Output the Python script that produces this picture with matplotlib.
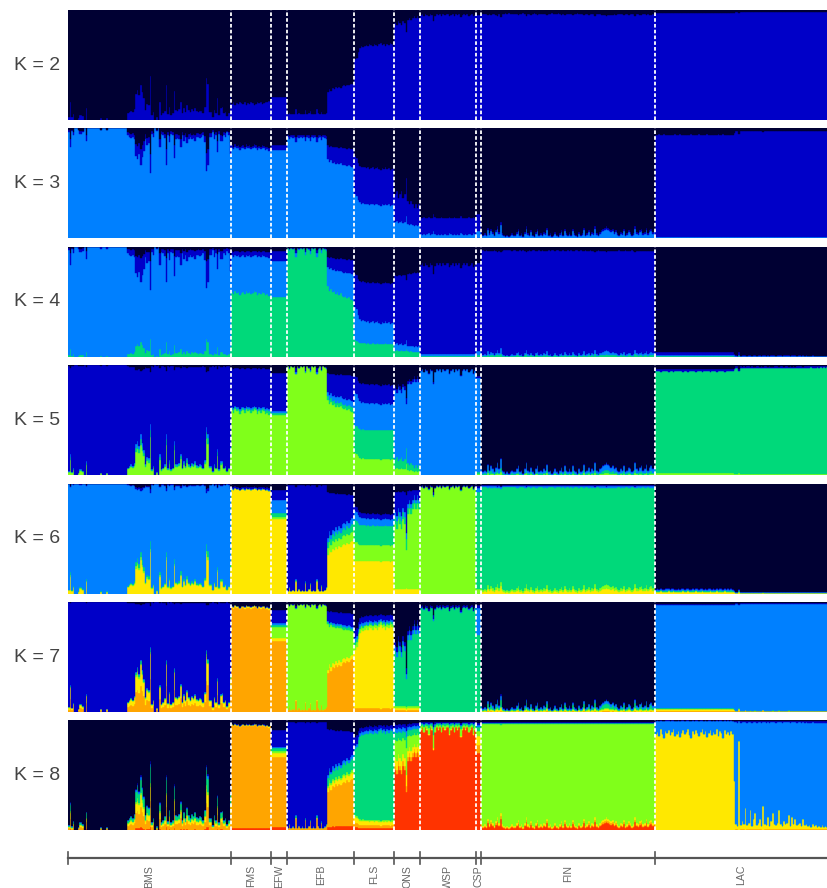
import numpy as np
import matplotlib
matplotlib.use('Agg')
from matplotlib import pyplot as plt

pops = ['BMS', 'FMS', 'EFW', 'EFB', 'FLS', 'ONS', 'WSP', 'CSP', 'FIN', 'LAC']
palette = ['#000033', '#0000C8', '#0080FF', '#00D97A', '#80FF1A', '#FFE800', '#FFA500', '#FF3300']
k_values = [2, 3, 4, 5, 6, 7, 8]

# admixture level of every individual (0 = like the population core, 100 = like the admix profile)
admix_level = {
    'BMS': [5, 27, 4, 9, 0, 0, 3, 8, 8, 6, 0, 18, 0, 0, 0, 0, 0, 0, 0, 0,
            3, 0, 0, 0, 3, 0, 0, 0, 0, 0, 0, 0, 0, 0, 0, 0, 0, 10, 12, 14,
            12, 16, 40, 45, 38, 53, 42, 33, 15, 24, 22, 66, 8, 12, 0, 4, 0, 27, 8, 10,
            14, 53, 9, 20, 8, 10, 44, 15, 14, 16, 28, 10, 18, 12, 22, 15, 12, 16, 14, 18,
            13, 12, 14, 13, 10, 20, 63, 54, 12, 12, 5, 15, 10, 34, 8, 18, 19, 10, 12, 6,
            10, 37],
    'FMS': [30, 50, 20, 40, 30, 60, 40, 30, 50, 20, 40, 30, 50, 40, 20, 30, 60, 40, 50, 30,
            40, 60, 50, 70, 50],
    'EFW': [30, 50, 20, 60, 40, 30, 50, 70, 40, 60],
    'EFB': [0, 5, 0, 2, 0, 15, 0, 3, 0, 2, 0, 12, 0, 3, 10, 0, 2, 0, 15, 3,
            0, 8, 0, 2, 5,
            62, 70, 66, 72, 70, 75, 72, 76, 74, 78, 80, 78, 82, 80, 83, 85, 87],
    'FLS': [100, 90, 60, 40, 30, 35, 30, 25, 30, 20, 25, 30, 20, 25, 30, 20, 15, 25, 20, 30,
            20, 25, 15, 20, 30],
    'ONS': [50, 60, 40, 50, 60, 40, 50, 100, 30, 20, 30, 20, 10, 20, 10, 20],
    'WSP': [20, 10, 30, 10, 20, 40, 10, 20, 100, 30, 10, 20, 10, 30, 10, 20, 10, 10, 40, 20,
            10, 30, 10, 20, 10, 50, 20, 10, 20, 10, 30, 20, 10, 40, 20],
    'CSP': [20, 50, 80],
    'FIN': [30, 10, 20, 10, 60, 20, 50, 30, 10, 40, 70, 30, 100, 20, 10, 0, 10, 0, 10, 20,
            10, 10, 30, 50, 10, 20, 0, 30, 70, 20, 10, 40, 10, 0, 30, 50, 10, 20, 10, 30,
            20, 60, 10, 20, 0, 10, 30, 10, 0, 20, 40, 10, 50, 20, 10, 30, 10, 50, 20, 10,
            0, 30, 10, 20, 60, 10, 20, 40, 10, 30, 20, 70, 20, 10, 30, 40, 50, 60, 70, 60,
            50, 40, 50, 30, 40, 20, 10, 30, 20, 50, 10, 20, 40, 30, 10, 20, 70, 30, 20, 40,
            50, 20, 30, 60, 20, 40, 50, 30, 40],
    'LAC': [90, 92, 88, 95, 90, 86, 93, 91, 94, 89, 92, 95, 88, 90, 93, 87, 91, 94, 90, 92,
            95, 89, 86, 93, 90, 94, 91, 88, 92, 95, 90, 93, 87, 91, 94, 89, 92, 90, 95, 88,
            93, 91, 86, 94, 90, 92, 89, 93, 90,
            46, 5, 3, 84, 4, 8, 5, 20, 4, 6, 18, 3, 10, 15, 4, 6, 10, 3, 22, 5,
            4, 12, 3, 8, 15, 5, 4, 6, 18, 5, 3, 8, 5, 6, 14, 3, 12, 5, 10, 4,
            5, 6, 3, 10, 4, 5, 3, 4, 2, 5, 3, 4, 2, 3, 2, 4, 2, 3, 2],
}

# cluster proportions (navy, blue, light blue, green, yellow-green, yellow, orange, red)
core = {
    2: {'BMS': [1, 0], 'FMS': [0.88, 0.12], 'EFW': [0.79, 0.21], 'EFB': [0.95, 0.05],
        'FLS': [0.27, 0.73], 'ONS': [0.04, 0.96], 'WSP': [0.03, 0.97], 'CSP': [0.05, 0.95],
        'FIN': [0.03, 0.97], 'LAC': [0.02, 0.98]},
    3: {'BMS': [0, 0, 1], 'FMS': [0.13, 0.02, 0.85], 'EFW': [0.15, 0.05, 0.8],
        'EFB': [0.06, 0.02, 0.92], 'FLS': [0.4, 0.32, 0.28], 'ONS': [0.75, 0.15, 0.1],
        'WSP': [0.82, 0.15, 0.03], 'CSP': [0.78, 0.15, 0.07], 'FIN': [0.98, 0.01, 0.01],
        'LAC': [0.02, 0.97, 0.01]},
    4: {'BMS': [0, 0, 1, 0], 'FMS': [0.03, 0.03, 0.32, 0.62], 'EFW': [0.04, 0.09, 0.33, 0.54],
        'EFB': [0.01, 0, 0, 0.99], 'FLS': [0.35, 0.38, 0.16, 0.11], 'ONS': [0.22, 0.7, 0.04, 0.04],
        'WSP': [0.14, 0.84, 0.01, 0.01], 'CSP': [0.15, 0.8, 0.03, 0.02],
        'FIN': [0.03, 0.96, 0.005, 0.005], 'LAC': [0.99, 0.005, 0.005, 0]},
    5: {'BMS': [0, 1, 0, 0, 0], 'FMS': [0.02, 0.34, 0.01, 0.01, 0.62],
        'EFW': [0.07, 0.35, 0.01, 0.02, 0.55], 'EFB': [0.01, 0, 0, 0, 0.99],
        'FLS': [0.2, 0.18, 0.22, 0.27, 0.13], 'ONS': [0.08, 0.02, 0.85, 0.03, 0.02],
        'WSP': [0.02, 0, 0.98, 0, 0], 'CSP': [0.1, 0.02, 0.85, 0.02, 0.01],
        'FIN': [0.98, 0.005, 0.01, 0.005, 0], 'LAC': [0.01, 0.01, 0, 0.97, 0.01]},
    6: {'BMS': [0, 0, 1, 0, 0, 0], 'FMS': [0.02, 0.01, 0, 0, 0, 0.97],
        'EFW': [0.06, 0.09, 0.12, 0.03, 0.02, 0.68], 'EFB': [0.01, 0.97, 0, 0, 0, 0.02],
        'FLS': [0.3, 0.04, 0.06, 0.17, 0.14, 0.29], 'ONS': [0.05, 0.02, 0.03, 0.04, 0.82, 0.04],
        'WSP': [0.01, 0, 0, 0, 0.99, 0], 'CSP': [0.02, 0.02, 0.04, 0.88, 0.04, 0],
        'FIN': [0.01, 0.01, 0.01, 0.95, 0.01, 0.01], 'LAC': [0.99, 0, 0.005, 0, 0, 0.005]},
    7: {'BMS': [0, 1, 0, 0, 0, 0, 0], 'FMS': [0.02, 0, 0, 0, 0, 0.01, 0.97],
        'EFW': [0.07, 0.12, 0.02, 0.02, 0.1, 0.02, 0.65], 'EFB': [0.02, 0, 0, 0, 0.96, 0, 0.02],
        'FLS': [0.08, 0.04, 0.02, 0.01, 0.02, 0.8, 0.03],
        'ONS': [0.12, 0.03, 0.04, 0.75, 0.02, 0.02, 0.02], 'WSP': [0.02, 0.01, 0, 0.97, 0, 0, 0],
        'CSP': [0.03, 0.02, 0.25, 0.7, 0, 0, 0], 'FIN': [0.98, 0.005, 0.005, 0.005, 0, 0.005, 0],
        'LAC': [0.01, 0.01, 0.97, 0, 0, 0.005, 0.005]},
    8: {'BMS': [1, 0, 0, 0, 0, 0, 0, 0], 'FMS': [0.02, 0, 0, 0, 0, 0.01, 0.95, 0.02],
        'EFW': [0.09, 0.15, 0.01, 0.03, 0.02, 0.03, 0.64, 0.03],
        'EFB': [0.01, 0.97, 0, 0, 0, 0, 0.02, 0],
        'FLS': [0.02, 0.02, 0.02, 0.86, 0.01, 0.03, 0.02, 0.02],
        'ONS': [0.02, 0.02, 0.02, 0.04, 0.08, 0.04, 0.03, 0.75],
        'WSP': [0.01, 0.01, 0, 0.01, 0.01, 0, 0, 0.96],
        'CSP': [0.02, 0.02, 0.02, 0.04, 0.04, 0.08, 0.08, 0.7],
        'FIN': [0.01, 0.01, 0, 0.01, 0.94, 0.01, 0.01, 0.01],
        'LAC': [0.01, 0.01, 0.97, 0, 0, 0, 0.005, 0.005]},
}

admix = {
    2: {'BMS': [0.4, 0.6], 'FMS': [0.8, 0.2], 'EFB': [0.62, 0.38], 'FLS': [0.45, 0.55],
        'ONS': [0.2, 0.8], 'WSP': [0.1, 0.9], 'FIN': [0.06, 0.94], 'LAC': [0.03, 0.97]},
    3: {'BMS': [0.35, 0.27, 0.38], 'FMS': [0.2, 0.03, 0.77], 'EFB': [0.21, 0.19, 0.6],
        'FLS': [0.25, 0.35, 0.4], 'ONS': [0.45, 0.35, 0.2], 'WSP': [0.78, 0.15, 0.07],
        'FIN': [0.85, 0.03, 0.12], 'LAC': [0.06, 0.93, 0.01]},
    4: {'BMS': [0.2, 0.4, 0.15, 0.25], 'FMS': [0.06, 0.06, 0.36, 0.52],
        'EFB': [0.14, 0.15, 0.28, 0.43], 'FLS': [0.25, 0.3, 0.3, 0.15],
        'ONS': [0.3, 0.55, 0.08, 0.07], 'WSP': [0.25, 0.72, 0.02, 0.01],
        'FIN': [0.05, 0.87, 0.05, 0.03], 'LAC': [0.95, 0.03, 0.015, 0.005]},
    5: {'BMS': [0.1, 0.2, 0.08, 0.1, 0.52], 'FMS': [0.04, 0.38, 0.02, 0.04, 0.52],
        'EFB': [0.11, 0.27, 0.07, 0.05, 0.5], 'FLS': [0.1, 0.15, 0.3, 0.25, 0.2],
        'ONS': [0.3, 0.05, 0.4, 0.15, 0.1], 'WSP': [0.15, 0.02, 0.83, 0, 0],
        'FIN': [0.84, 0.01, 0.08, 0.04, 0.03], 'LAC': [0.04, 0.02, 0, 0.92, 0.02]},
    6: {'BMS': [0.08, 0.05, 0.15, 0.1, 0.05, 0.57], 'FMS': [0.05, 0.02, 0.01, 0, 0, 0.92],
        'EFB': [0.12, 0.08, 0.06, 0.08, 0.1, 0.56], 'FLS': [0.2, 0.05, 0.08, 0.2, 0.17, 0.3],
        'ONS': [0.1, 0.35, 0.05, 0.1, 0.35, 0.05], 'WSP': [0.08, 0.02, 0, 0.02, 0.88, 0],
        'FIN': [0.02, 0.01, 0.02, 0.84, 0.04, 0.07], 'LAC': [0.95, 0.01, 0.01, 0.01, 0, 0.02]},
    7: {'BMS': [0.05, 0.05, 0.02, 0.05, 0.03, 0.35, 0.45],
        'FMS': [0.06, 0.01, 0, 0, 0, 0.02, 0.91],
        'EFB': [0.12, 0.14, 0.02, 0.03, 0.08, 0.05, 0.56],
        'FLS': [0.25, 0.08, 0.03, 0.03, 0.05, 0.52, 0.04],
        'ONS': [0.6, 0.05, 0.05, 0.25, 0.02, 0.02, 0.01],
        'WSP': [0.12, 0.03, 0.02, 0.83, 0, 0, 0],
        'FIN': [0.84, 0.01, 0.04, 0.06, 0.01, 0.03, 0.01],
        'LAC': [0.02, 0.01, 0.93, 0.01, 0, 0.02, 0.01]},
    8: {'BMS': [0.05, 0.04, 0.04, 0.22, 0.05, 0.2, 0.35, 0.05],
        'FMS': [0.06, 0.01, 0, 0, 0, 0.01, 0.9, 0.02],
        'EFB': [0.12, 0.08, 0.04, 0.12, 0.03, 0.06, 0.5, 0.05],
        'FLS': [0.15, 0.08, 0.03, 0.6, 0.02, 0.05, 0.04, 0.03],
        'ONS': [0.05, 0.05, 0.05, 0.1, 0.25, 0.1, 0.05, 0.35],
        'WSP': [0.03, 0.03, 0.02, 0.05, 0.12, 0.02, 0, 0.73],
        'FIN': [0.01, 0.01, 0, 0.02, 0.8, 0.03, 0.03, 0.1],
        'LAC': [0, 0, 0.03, 0, 0, 0.97, 0, 0]},
}


def build_q(k):
    rows = []
    for p in pops:
        c = np.array(core[k][p], float)
        m = np.array(admix[k].get(p, core[k][p]), float)
        for a in admix_level[p]:
            q = (1 - a / 100.0) * c + (a / 100.0) * m
            rows.append(q / q.sum())
    return np.array(rows)


counts = [len(admix_level[p]) for p in pops]
bounds = np.concatenate([[0], np.cumsum(counts)])
n = bounds[-1]

W, H = 828.0, 888.0
left = 68 / W
width = 760 / W

fig = plt.figure(figsize=(8.28, 8.88), dpi=100)

for row, k in enumerate(k_values):
    top = 10 + row * 118.4
    ax = fig.add_axes([left, 1 - (top + 110) / H, width, 110 / H])
    q = build_q(k)
    x = np.arange(n)
    bottom = np.zeros(n)
    for c in range(k - 1, -1, -1):
        ax.bar(x, q[:, c], bottom=bottom, width=1.0, color=palette[c],
               edgecolor=palette[c], linewidth=0.3)
        bottom += q[:, c]
    for b in bounds[1:-1]:
        ax.axvline(b - 0.5, color='white', lw=1.3, ls=(0, (2, 1.2)))
    ax.set_xlim(-0.5, n - 0.5)
    ax.set_ylim(0, 1)
    ax.axis('off')
    fig.text(60 / W, 1 - (top + 55) / H, 'K = %d' % k, ha='right', va='center',
             fontsize=14, color='#444444', family='Liberation Sans')

# population ruler
rax = fig.add_axes([left, 0, width, 38 / H])
rax.set_xlim(-0.5, n - 0.5)
rax.set_ylim(0, 38)
rax.axis('off')
rax.plot([-0.5, n - 0.5], [30, 30], color='#555555', lw=1.6, clip_on=False)
for b in bounds:
    rax.plot([b - 0.5, b - 0.5], [24, 36], color='#555555', lw=1.2, clip_on=False)
for i, p in enumerate(pops):
    mid = (bounds[i] + bounds[i + 1]) / 2 - 0.5
    rax.text(mid, 23, p, rotation=90, ha='center', va='top', fontsize=7.6,
             color='#666666', family='Liberation Sans')

fig.savefig('out.png', dpi=100)
